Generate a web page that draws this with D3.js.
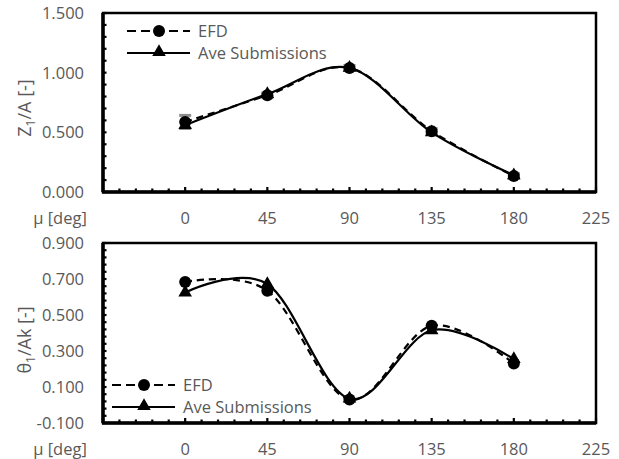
<!DOCTYPE html>
<html>
<head>
<meta charset="utf-8">
<script src="https://cdn.jsdelivr.net/npm/d3@7"></script>
<style>
  body { margin: 0; background: #fff; }
  text { font-family: "Open Sans", "Noto Sans", sans-serif; fill: #595959; }
</style>
</head>
<body>
<div id="container"></div>
<script>
const mu = [0, 45, 90, 135, 180];

// Z1/A
const zEfd = [0.587, 0.81, 1.04, 0.51, 0.134];
const zEfdErr = [0.055, 0.02, 0.02, 0.02, 0.02];
const zAve = [0.56, 0.82, 1.04, 0.50, 0.14];

// theta1/Ak
const tEfd = [0.683, 0.635, 0.03, 0.44, 0.23];
const tAve = [0.625, 0.672, 0.035, 0.415, 0.255];

const xTicks = [0, 45, 90, 135, 180, 225];
const zTicks = [0, 0.5, 1.0, 1.5];
const tTicks = [-0.1, 0.1, 0.3, 0.5, 0.7, 0.9];

const W = 619, H = 459;
const FS = 16.5;
const svg = d3.select("#container").append("svg")
    .attr("width", W).attr("height", H);

// one panel
const panel = (opts) => {
    const g = svg.append("g");
    const x = d3.scaleLinear().domain([-45, 225]).range([103, 596]);
    const y = d3.scaleLinear().domain(opts.ydom).range([opts.bottom, opts.top]);

    // minor ticks on x (inside)
    const xMinor = d3.range(-45, 225.01, 9);
    g.selectAll(".xm").data(xMinor).enter().append("line")
        .attr("x1", d => x(d)).attr("x2", d => x(d))
        .attr("y1", opts.bottom).attr("y2", d => opts.bottom - (d % 45 === 0 ? 5 : 3.5))
        .attr("stroke", "#000").attr("stroke-width", 2.2);
    // minor ticks on y (inside)
    const yMinor = d3.range(opts.ydom[0], opts.ydom[1] + 1e-6, opts.minor);
    g.selectAll(".ym").data(yMinor).enter().append("line")
        .attr("x1", 103).attr("x2", 106.5)
        .attr("y1", d => y(d)).attr("y2", d => y(d))
        .attr("stroke", "#000").attr("stroke-width", 2.2);

    // frame
    g.append("rect").attr("x", x(-45)).attr("y", opts.top)
        .attr("width", x(225) - x(-45)).attr("height", opts.bottom - opts.top)
        .attr("fill", "none").attr("stroke", "#000").attr("stroke-width", 2.5);
    g.append("line").attr("x1", x(-45) - 1).attr("x2", x(225))
        .attr("y1", opts.bottom).attr("y2", opts.bottom)
        .attr("stroke", "#000").attr("stroke-width", 3.5);
    g.append("line").attr("x1", x(-45)).attr("x2", x(-45))
        .attr("y1", opts.top).attr("y2", opts.bottom)
        .attr("stroke", "#000").attr("stroke-width", 3.5);

    // tick labels
    g.selectAll(".xl").data(xTicks).enter().append("text")
        .attr("x", d => x(d)).attr("y", opts.bottom + 32)
        .attr("text-anchor", "middle").attr("font-size", FS)
        .text(d => d);
    g.append("text").attr("x", 60).attr("y", opts.bottom + 32)
        .attr("text-anchor", "middle").attr("font-size", FS).text("μ [deg]");
    g.selectAll(".yl").data(opts.yticks).enter().append("text")
        .attr("x", 84).attr("y", d => y(d) + 6)
        .attr("text-anchor", "end").attr("font-size", FS)
        .text(d => d.toFixed(3));

    // y title
    const yt = g.append("text")
        .attr("transform", `translate(31,${opts.titleY}) rotate(-90)`)
        .attr("text-anchor", "middle").attr("font-size", 18);
    yt.append("tspan").text(opts.title[0]);
    yt.append("tspan").attr("font-size", 12).attr("dy", 4).text("1");
    yt.append("tspan").attr("dy", -4).text(opts.title[1]);

    // error bars (gray)
    if (opts.err) {
        const eb = g.selectAll(".eb").data(mu).enter().append("g");
        eb.append("line")
            .attr("x1", d => x(d)).attr("x2", d => x(d))
            .attr("y1", (d, i) => y(opts.efd[i] - opts.err[i]))
            .attr("y2", (d, i) => y(opts.efd[i] + opts.err[i]))
            .attr("stroke", "#8c8c8c").attr("stroke-width", 2);
        [-1, 1].forEach(s => {
            eb.append("line")
                .attr("x1", d => x(d) - 6).attr("x2", d => x(d) + 6)
                .attr("y1", (d, i) => y(opts.efd[i] + s * opts.err[i]))
                .attr("y2", (d, i) => y(opts.efd[i] + s * opts.err[i]))
                .attr("stroke", "#8c8c8c").attr("stroke-width", 3);
        });
    }

    const line = d3.line().x((d, i) => x(mu[i])).y(d => y(d))
        .curve(d3.curveCatmullRom.alpha(0));
    g.append("path").datum(opts.efd).attr("d", line)
        .attr("fill", "none").attr("stroke", "#000").attr("stroke-width", 2.2)
        .attr("stroke-dasharray", "7,5");
    g.append("path").datum(opts.ave).attr("d", line)
        .attr("fill", "none").attr("stroke", "#000").attr("stroke-width", 2.2);

    const tri = d3.symbol().type(d3.symbolTriangle).size(80);
    g.selectAll(".tr").data(opts.ave).enter().append("path")
        .attr("d", tri)
        .attr("transform", (d, i) => `translate(${x(mu[i])},${y(d)})`)
        .attr("fill", "#000");
    g.selectAll(".ci").data(opts.efd).enter().append("circle")
        .attr("cx", (d, i) => x(mu[i])).attr("cy", d => y(d))
        .attr("r", 6).attr("fill", "#000");

    // legend
    const L = opts.legend;
    const lg = g.append("g");
    lg.append("line").attr("x1", L.x).attr("x2", L.x + 63)
        .attr("y1", L.y).attr("y2", L.y)
        .attr("stroke", "#000").attr("stroke-width", 2.2).attr("stroke-dasharray", "9,5");
    lg.append("circle").attr("cx", L.x + 32).attr("cy", L.y).attr("r", 6).attr("fill", "#000");
    lg.append("text").attr("x", L.x + 71).attr("y", L.y + 6).attr("font-size", FS).text("EFD");
    lg.append("line").attr("x1", L.x).attr("x2", L.x + 63)
        .attr("y1", L.y + 22).attr("y2", L.y + 22)
        .attr("stroke", "#000").attr("stroke-width", 2);
    lg.append("path").attr("d", tri)
        .attr("transform", `translate(${L.x + 32},${L.y + 21})`).attr("fill", "#000");
    lg.append("text").attr("x", L.x + 71).attr("y", L.y + 28).attr("font-size", FS).text("Ave Submissions");
};

panel({
    top: 13, bottom: 192, ydom: [0, 1.5], minor: 0.1, yticks: zTicks,
    efd: zEfd, ave: zAve, err: zEfdErr,
    title: ["Z", "/A [-]"], titleY: 108,
    legend: { x: 127, y: 31 }
});
panel({
    top: 243, bottom: 423, ydom: [-0.1, 0.9], minor: 0.04, yticks: tTicks,
    efd: tEfd, ave: tAve, err: null,
    title: ["θ", "/Ak [-]"], titleY: 340,
    legend: { x: 112, y: 385 }
});
</script>
</body>
</html>
